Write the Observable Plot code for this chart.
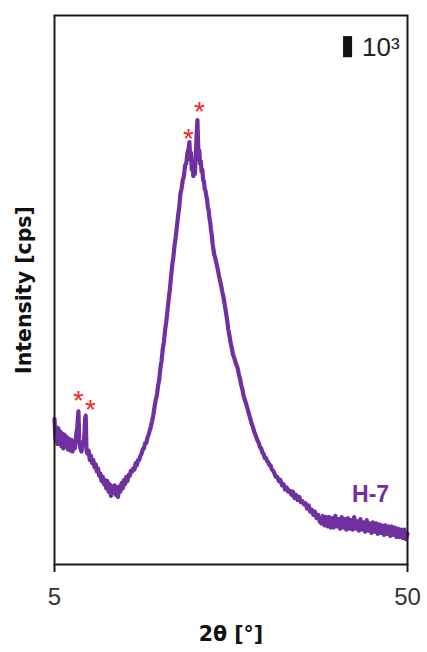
<!DOCTYPE html>
<html>
<head>
<meta charset="utf-8">
<script src="https://cdn.jsdelivr.net/npm/d3@7"></script>
<script src="https://cdn.jsdelivr.net/npm/@observablehq/plot@0.6"></script>
<style>
  html, body { margin: 0; padding: 0; background: #fff; }
</style>
</head>
<body>
<div id="chart"></div>
<script>
const twoTheta = [
  5.00,5.12,5.25,5.38,5.50,5.62,5.75,5.88,6.00,6.12,6.25,6.40,6.55,6.70,6.85,7.00,7.15,7.30,7.45,7.60,
  7.75,7.90,8.05,8.15,8.30,8.45,8.60,8.75,8.90,8.98,9.08,9.20,9.35,9.50,9.65,9.80,9.95,10.10,10.25,10.40,
  10.55,10.70,10.85,11.00,11.15,11.30,11.45,11.60,11.75,11.90,12.05,12.20,12.35,12.50,12.65,12.80,12.95,13.10,13.25,13.40,
  13.55,13.70,13.85,14.00,14.15,14.30,14.45,14.60,14.75,14.90,15.05,15.20,15.35,15.50,15.65,15.80,15.95,16.10,16.25,16.40,
  16.55,16.70,16.85,17.00,17.15,17.30,17.45,17.60,17.75,17.90,18.05,18.20,18.35,18.50,18.65,18.80,18.95,19.10,19.25,19.40,
  19.55,19.70,19.85,20.00,20.15,20.30,20.45,20.60,20.75,20.90,21.05,21.20,21.35,21.50,21.65,21.80,21.95,22.10,22.20,22.30,
  22.40,22.50,22.60,22.70,22.80,22.90,23.00,23.10,23.22,23.30,23.38,23.46,23.55,23.65,23.75,23.85,23.95,24.05,24.15,24.25,
  24.35,24.45,24.55,24.65,24.75,24.85,24.95,25.05,25.15,25.25,25.35,25.50,25.65,25.80,25.95,26.10,26.25,26.40,26.55,26.70,
  26.85,27.00,27.15,27.30,27.45,27.60,27.75,27.90,28.05,28.20,28.35,28.50,28.65,28.80,28.95,29.10,29.25,29.40,29.55,29.70,
  29.85,30.00,30.15,30.30,30.45,30.60,30.75,30.90,31.05,31.20,31.35,31.50,31.65,31.80,31.95,32.10,32.25,32.40,32.55,32.70,
  32.85,33.00,33.20,33.40,33.60,33.80,34.00,34.20,34.40,34.60,34.80,35.00,35.20,35.40,35.60,35.80,36.00,36.20,36.40,36.60,
  36.80,37.00,37.20,37.40,37.60,37.80,38.00,38.20,38.40,38.60,38.80,39.00,39.20,39.40,39.60,39.80,40.00,40.20,40.40,40.60,
  40.80,41.00,41.20,41.40,41.60,41.80,42.00,42.20,42.40,42.60,42.80,43.00,43.20,43.40,43.60,43.80,44.00,44.20,44.40,44.60,
  44.80,45.00,45.20,45.40,45.60,45.80,46.00,46.20,46.40,46.60,46.80,47.00,47.20,47.40,47.60,47.80,48.00,48.20,48.40,48.60,
  48.80,49.00,49.20,49.40,49.60,49.80,50.00
];
const intensity = [
  6900,5900,6500,5700,6450,5800,6300,5600,6200,5500,6150,5600,6050,5450,5950,5400,5900,5350,5800,5500,
  6100,6500,7250,5900,5500,5350,5800,5700,6900,7050,5400,5250,5400,4950,5150,4800,4950,4600,4750,4400,
  4550,4200,4300,3950,4150,3800,4000,3600,3950,3450,3800,3250,3700,3400,3750,3300,3650,3200,3700,3450,
  3850,3600,4000,3800,4150,3950,4250,4200,4450,4400,4550,4500,4800,4700,4950,4950,5150,5250,5450,5500,
  5750,5750,6000,6150,6350,6550,6800,7100,7450,7800,8000,8450,8750,9300,9650,10200,10550,11100,11500,12000,
  12550,13000,13600,14150,14550,15100,15500,16000,16500,16900,17550,17800,18200,18400,18900,19000,19500,19700,20000,19200,
  19500,18700,18900,18400,18900,18500,19300,20200,21050,20000,19200,19600,19000,19100,18600,18700,18200,18150,17800,17700,
  17450,17300,16900,16800,16400,16200,15850,15600,15200,14950,14700,14500,14250,14000,13700,13450,13200,12900,12650,12300,
  11950,11600,11150,10850,10500,10250,9950,9800,9600,9450,9300,9000,8800,8500,8300,8000,7800,7650,7450,7250,
  7050,6850,6650,6500,6300,6150,6000,5850,5750,5550,5500,5300,5250,5050,5050,4900,4850,4700,4700,4500,
  4450,4350,4150,4150,3950,4000,3750,3800,3550,3650,3450,3500,3300,3450,3150,3300,3050,3200,2950,3000,
  2850,2900,2650,2800,2500,2600,2350,2500,2200,2350,2050,1950,2300,1850,2250,1800,2250,1750,2200,1750,
  2300,1800,2150,1700,2250,1750,2150,1650,2200,1700,2100,1650,2250,1700,2050,1600,2150,1650,2000,1550,
  2100,1600,1950,1500,2000,1550,1950,1450,1900,1500,1850,1400,1850,1450,1800,1350,1800,1400,1750,1300,
  1700,1300,1650,1250,1650,1200,1450
];

// peak markers (asterisks)
const starX = [8.06, 9.59, 22.08, 23.48];
const starY = [8050, 7630, 20460, 21740];

// x tick labels
const xTicks = [5, 50];

// scale bar (10^3 cps)
const barX = [41.85, 43.0];
const barY = [24000, 25000];
const barLabel = "10³";

// sample label
const sampleName = "H-7";
const sampleX = 45.3;
const sampleY = 3320;

const xLabel = "2θ [°]";
const yLabel = "Intensity [cps]";

const purple = "#7030A0";
const data = twoTheta.map((x, i) => ({x, y: intensity[i]}));
const stars = starX.map((x, i) => ({x, y: starY[i]}));
const boldFont = "'DejaVu Sans', sans-serif";

const chart = Plot.plot({
  width: 427,
  height: 652,
  marginLeft: 54,
  marginRight: 20,
  marginTop: 15,
  marginBottom: 88,
  style: {fontFamily: "'Liberation Sans', Arial, sans-serif", background: "#fff"},
  x: {domain: [5, 50]},
  y: {domain: [0, 26000]},
  marks: [
    Plot.line(data, {x: "x", y: "y", stroke: purple, strokeWidth: 4.2, strokeLinejoin: "round"}),
    Plot.text(stars, {x: "x", y: "y", text: () => "*", fill: "#ff2020", fontSize: 28, lineAnchor: "middle", dy: 7}),
    Plot.rect([0], {x1: () => barX[0], x2: () => barX[1], y1: () => barY[0], y2: () => barY[1], fill: "#111"}),
    Plot.text([barLabel], {x: () => barX[1] + 1.2, y: () => (barY[0] + barY[1]) / 2, text: d => d, textAnchor: "start", lineAnchor: "middle", fontSize: 26, fill: "#222"}),
    Plot.text([sampleName], {x: () => sampleX, y: () => sampleY, text: d => d, fontSize: 23, fontWeight: "bold", fill: purple}),
    Plot.frame({stroke: "#1a1a1a", strokeWidth: 2}),
    Plot.axisX({ticks: xTicks, tickFormat: d => String(d), tickSize: 8, tickPadding: 15, fontSize: 24, label: null, stroke: "#1a1a1a", strokeWidth: 2, fill: "#333"}),
    Plot.axisY({ticks: [], label: null}),
    Plot.text([xLabel], {frameAnchor: "bottom", dy: 70, text: d => d, fontSize: 20.5, fontWeight: "bold", fontFamily: boldFont, fill: "#111", textAnchor: "middle", lineAnchor: "middle"}),
    Plot.text([yLabel], {frameAnchor: "left", dx: -24, rotate: -90, text: d => d, fontSize: 20.5, fontWeight: "bold", fontFamily: boldFont, fill: "#111", textAnchor: "middle", lineAnchor: "bottom"})
  ]
});
document.getElementById("chart").appendChild(chart);
</script>
</body>
</html>
